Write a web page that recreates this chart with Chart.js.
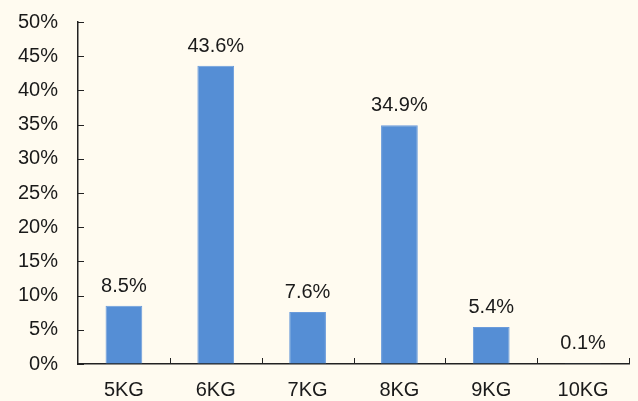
<!DOCTYPE html>
<html>
<head>
<meta charset="utf-8">
<script src="https://cdn.jsdelivr.net/npm/chart.js@4.4.1/dist/chart.umd.min.js"></script>
<style>
  html, body { margin: 0; padding: 0; background: #fffbf0; }
  #wrap { width: 638px; height: 401px; }
</style>
</head>
<body>
<div id="wrap"><canvas id="c" width="638" height="401"></canvas></div>
<script>
'use strict';

const categories = ['5KG', '6KG', '7KG', '8KG', '9KG', '10KG'];
const shares = [8.5, 43.6, 7.6, 34.9, 5.4, 0.1];
const yTicks = [0, 5, 10, 15, 20, 25, 30, 35, 40, 45, 50];

const FONT = { family: 'Liberation Sans, Arial, sans-serif', size: 20 };
const AXIS_COLOR = '#222';
const TICK_LEN = 6;

// inward tick marks on both axes plus the value above each bar
const decorations = {
  id: 'decorations',
  afterDatasetsDraw(chart) {
    const ctx = chart.ctx;
    const x = chart.scales.x;
    const y = chart.scales.y;
    const area = chart.chartArea;
    ctx.save();
    ctx.strokeStyle = AXIS_COLOR;
    ctx.lineWidth = 1;
    ctx.beginPath();
    yTicks.forEach(v => {
      const py = Math.round(y.getPixelForValue(v)) + 0.5;
      ctx.moveTo(area.left, py);
      ctx.lineTo(area.left + TICK_LEN, py);
    });
    for (let i = 1; i <= categories.length; i++) {
      const px = Math.round(x.getPixelForValue(i - 0.5)) + 0.5;
      ctx.moveTo(px, area.bottom);
      ctx.lineTo(px, area.bottom - TICK_LEN);
    }
    ctx.stroke();

    ctx.fillStyle = '#1a1a1a';
    ctx.font = FONT.size + 'px ' + FONT.family;
    ctx.textAlign = 'center';
    ctx.textBaseline = 'alphabetic';
    const meta = chart.getDatasetMeta(0);
    meta.data.forEach((bar, i) => {
      ctx.fillText(shares[i].toFixed(1) + '%', bar.x, bar.y - 14);
    });
    ctx.restore();
  }
};

new Chart(document.getElementById('c').getContext('2d'), {
  type: 'bar',
  data: {
    labels: categories,
    datasets: [{
      data: shares,
      backgroundColor: '#558ed5',
      borderColor: '#6a9bdb',
      borderWidth: 1,
      categoryPercentage: 0.4,
      barPercentage: 1
    }]
  },
  options: {
    responsive: false,
    animation: false,
    layout: { padding: { top: 22, right: 9, left: 0, bottom: 0 } },
    plugins: { legend: { display: false }, tooltip: { enabled: false } },
    scales: {
      x: {
        grid: { display: true, drawOnChartArea: false, drawTicks: false, offset: true },
        border: { display: true, color: AXIS_COLOR, width: 1.5 },
        ticks: { color: '#1a1a1a', font: FONT, padding: 14 },
        afterFit(scale) { scale.height = 37; }
      },
      y: {
        min: 0,
        max: 50,
        grid: { display: true, drawOnChartArea: false, drawTicks: false },
        border: { display: true, color: AXIS_COLOR, width: 1.5 },
        ticks: {
          stepSize: 5,
          color: '#1a1a1a',
          font: FONT,
          padding: 20,
          callback: v => v + '%'
        },
        afterFit(scale) {
          scale.width = 78;
          scale.paddingTop = 0;
          scale.paddingBottom = 0;
        }
      }
    }
  },
  plugins: [decorations]
});
</script>
</body>
</html>
